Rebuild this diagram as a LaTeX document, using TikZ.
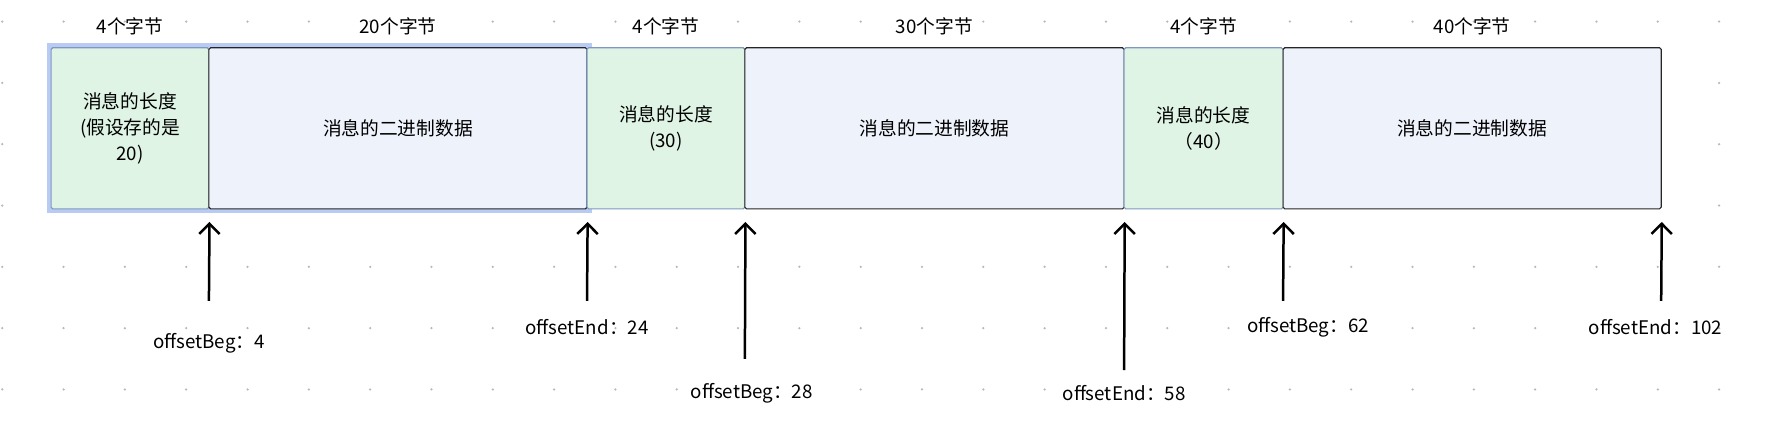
\documentclass[tikz,border=0pt]{standalone}
\usepackage{fontspec}
\setmainfont{Noto Sans CJK SC}
\usetikzlibrary{positioning, arrows.meta, fit, calc}
\definecolor{lenfill}{HTML}{DFF4E4}
\definecolor{datafill}{HTML}{EEF2FB}
\definecolor{lenline}{HTML}{7F98BE}
\definecolor{glow}{HTML}{B9CBF2}
\definecolor{dotgray}{HTML}{B8B8B8}

\begin{document}
\begin{tikzpicture}[
        x=1pt, y=-1pt,
        >={Straight Barb[length=9pt,width=18pt]},
        font=\fontsize{16.5}{23}\selectfont,
        lenbox/.style={draw=lenline, line width=1pt, fill=lenfill, rounded corners=1.5pt, align=center, inner sep=0pt},
        databox/.style={draw=black!85, line width=1pt, fill=datafill, rounded corners=1.5pt, align=center, inner sep=0pt},
        offset/.style={->, line width=2.2pt},
    ]
        \useasboundingbox (0,0) rectangle (1565,370);

        % Background dots
        \foreach \x in {0,...,29}
            \foreach \y in {0,...,6}
                \fill[dotgray] (2+\x*54,19+\y*54) circle (1.1pt);

        % Selection glow round the first message
        \fill[glow] (41,38) rectangle (521,188);

        % Length fields and data fields
        \node[lenbox, minimum width=139pt, minimum height=142pt] (len1) at (114.5,113) {消息的长度\\(假设存的是\\20)};
        \node[databox, minimum width=333pt, minimum height=142pt] (data1) at (350.5,113) {消息的二进制数据};
        \node[lenbox, minimum width=139pt, minimum height=142pt] (len2) at (586.5,113) {消息的长度\\(30)};
        \node[databox, minimum width=334pt, minimum height=142pt] (data2) at (823,113) {消息的二进制数据};
        \node[lenbox, minimum width=140pt, minimum height=142pt] (len3) at (1060,113) {消息的长度\\（40）};
        \node[databox, minimum width=333pt, minimum height=142pt] (data3) at (1296.5,113) {消息的二进制数据};

        % Byte counts
        \foreach \field / \txt in {len1/4, data1/20, len2/4, data2/30, len3/4, data3/40}
            \node[above=7pt of \field.north] (size-\field) {\txt 个字节};

        % Offset labels
        \node (beg1) at (184,302) {offsetBeg：4};
        \node (end1) at (517,288) {offsetEnd：24};
        \node (beg2) at (662,346) {offsetBeg：28};
        \node (end2) at (990,346) {offsetEnd：58};
        \node (beg3) at (1152,288) {offsetBeg：62};
        \node (end3) at (1458,288) {offsetEnd：102};

        % Arrow tails
        \coordinate (tb1) at (184,265);
        \coordinate (te1) at (517,265);
        \coordinate (tb2) at (656,316);
        \coordinate (te2) at (990,326);
        \coordinate (tb3) at (1130,265);
        \coordinate (te3) at (1463,265);

        % Arrows up to the field borders
        \draw[offset] (tb1) -- ([yshift=-11pt]len1.south east);
        \draw[offset] (te1) -- ([yshift=-11pt]data1.south east);
        \draw[offset] (tb2) -- ([yshift=-11pt]len2.south east);
        \draw[offset] (te2) -- ([yshift=-11pt]data2.south east);
        \draw[offset] (tb3) -- ([yshift=-11pt]len3.south east);
        \draw[offset] (te3) -- ([yshift=-11pt]data3.south east);
\end{tikzpicture}
\end{document}
